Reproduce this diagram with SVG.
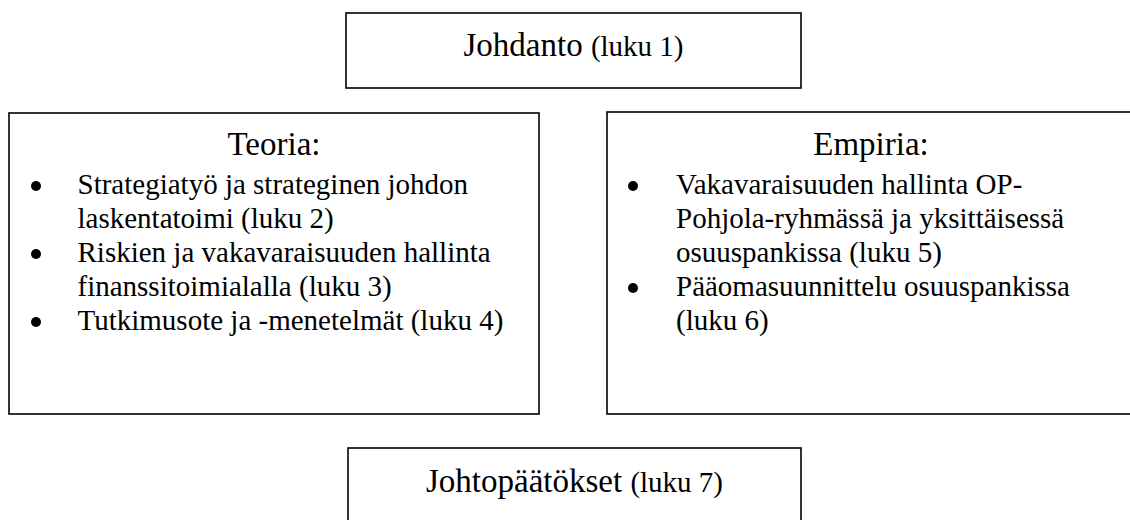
<svg xmlns="http://www.w3.org/2000/svg" width="1130" height="520" viewBox="0 0 1130 520">
  <style>
    .box { fill: #ffffff; stroke: #000000; stroke-width: 1.6; }
    .h { font-family: "Liberation Serif", "Times New Roman", serif; font-size: 33px; fill: #000; }
    .b { font-family: "Liberation Serif", "Times New Roman", serif; font-size: 29px; fill: #000; }
    .dot { fill: #000; }
  </style>
  <rect x="0" y="0" width="1130" height="520" fill="#ffffff"/>
  <g id="johdanto">
    <rect class="box" x="346" y="13" width="455" height="75"/>
    <text class="h" x="573.5" y="56" text-anchor="middle">Johdanto <tspan class="b">(luku 1)</tspan></text>
  </g>
  <g id="teoria">
    <rect class="box" x="9" y="113" width="530" height="301"/>
    <text class="h" x="274" y="155" text-anchor="middle">Teoria:</text>
    <circle class="dot" cx="36" cy="186" r="5"/>
    <text class="b" x="77.5" y="194">Strategiatyö ja strateginen johdon</text>
    <text class="b" x="77.5" y="228">laskentatoimi (luku 2)</text>
    <circle class="dot" cx="36" cy="254" r="5"/>
    <text class="b" x="77.5" y="262">Riskien ja vakavaraisuuden hallinta</text>
    <text class="b" x="77.5" y="296">finanssitoimialalla (luku 3)</text>
    <circle class="dot" cx="36" cy="322" r="5"/>
    <text class="b" x="77.5" y="330">Tutkimusote ja -menetelmät (luku 4)</text>
  </g>
  <g id="empiria">
    <rect class="box" x="607" y="112" width="530" height="302"/>
    <text class="h" x="871" y="155" text-anchor="middle">Empiria:</text>
    <circle class="dot" cx="633" cy="186" r="5"/>
    <text class="b" x="676" y="194">Vakavaraisuuden hallinta OP-</text>
    <text class="b" x="676" y="228">Pohjola-ryhmässä ja yksittäisessä</text>
    <text class="b" x="676" y="262">osuuspankissa (luku 5)</text>
    <circle class="dot" cx="633" cy="288" r="5"/>
    <text class="b" x="676" y="296">Pääomasuunnittelu osuuspankissa</text>
    <text class="b" x="676" y="330">(luku 6)</text>
  </g>
  <g id="johtopaatokset">
    <rect class="box" x="348" y="448" width="453" height="75"/>
    <text class="h" x="574.5" y="492" text-anchor="middle">Johtopäätökset <tspan class="b">(luku 7)</tspan></text>
  </g>
  <g id="connectors"></g>
</svg>
